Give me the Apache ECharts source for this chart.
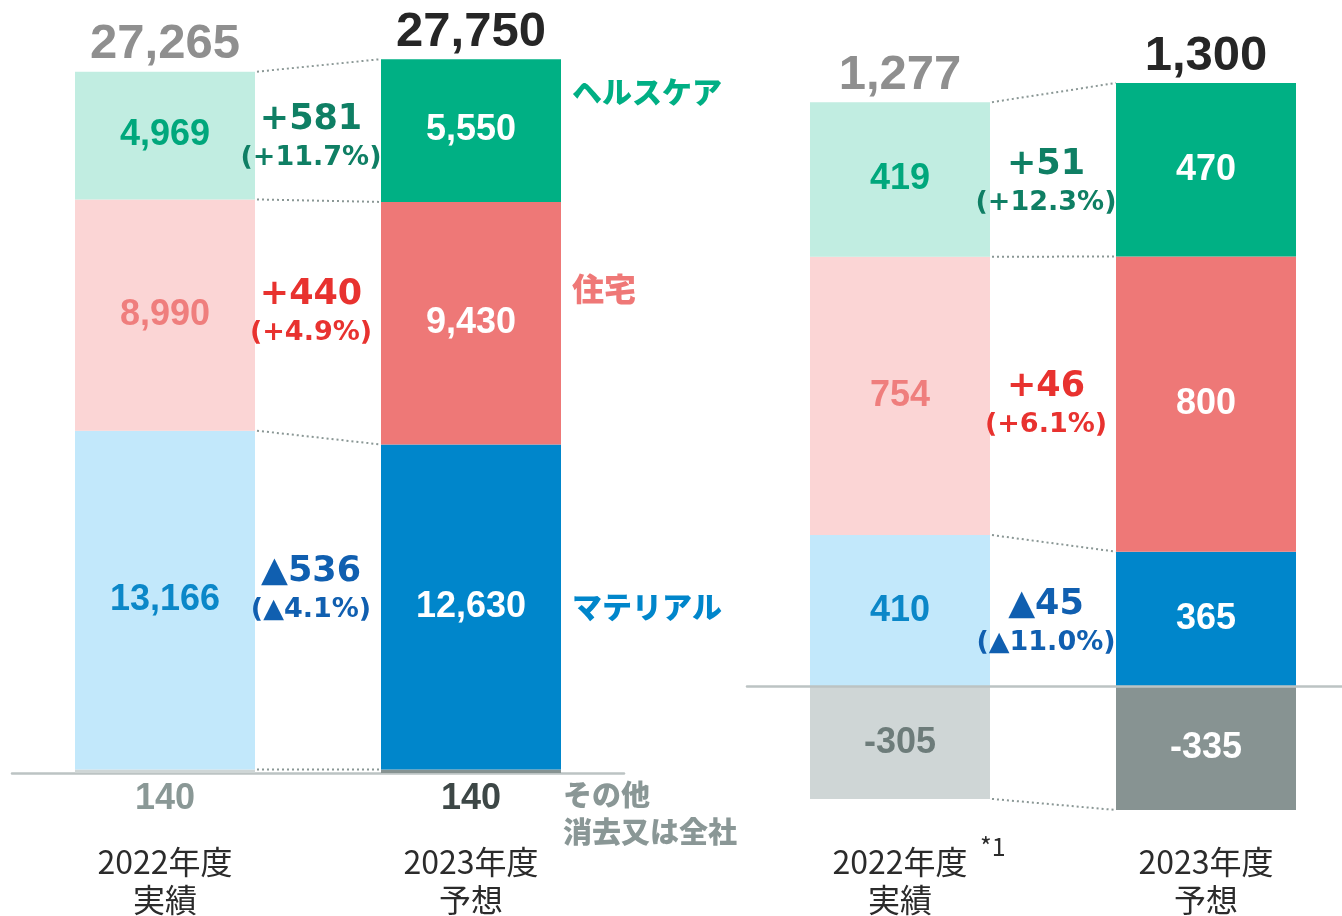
<!DOCTYPE html>
<html>
<head>
<meta charset="utf-8">
<title>セグメント別 売上高・営業利益</title>
<script src="https://cdn.jsdelivr.net/npm/echarts@6/dist/echarts.min.js"></script>
<style>
    html, body { margin: 0; padding: 0; background: #fff; }
    #main { width: 1342px; height: 916px; }
</style>
</head>
<body>
<div id="main"></div>
<script>
// 区分
var years = ['2022年度\n実績', '2023年度\n予想'];

// 売上高
var salesHealth = [4969, 5550];
var salesHousing = [8990, 9430];
var salesMaterial = [13166, 12630];
var salesOther = [140, 140];
var salesTotal = [27265, 27750];
var salesDiff = ['+581', '+440', '▲536'];
var salesRate = ['(+11.7%)', '(+4.9%)', '(▲4.1%)'];

// 営業利益
var opHealth = [419, 470];
var opHousing = [754, 800];
var opMaterial = [410, 365];
var opOther = [-305, -335];
var opTotal = [1277, 1300];
var opDiff = ['+51', '+46', '▲45'];
var opRate = ['(+12.3%)', '(+6.1%)', '(▲11.0%)'];

var barW = 180;
var numFont = '"Liberation Sans", Arial, sans-serif';
var diffFont = '"DejaVu Sans", Verdana, sans-serif';
var jpFont = '"Noto Sans CJK JP", sans-serif';

// 色（2022年度は淡色、2023年度は濃色）
var cHealth = ['#c1ede1', '#00b084'];
var cHousing = ['#fbd5d5', '#ee7877'];
var cMaterial = ['#c2e8fb', '#0086cb'];
var cOther = ['#cfd6d6', '#879392'];

function add(a, b) { return [a[0] + b[0], a[1] + b[1]]; }

// 積み上げの境界
var sLv1 = salesOther;
var sLv2 = add(sLv1, salesMaterial);
var sLv3 = add(sLv2, salesHousing);
var sLv4 = add(sLv3, salesHealth);
var oLv1 = opMaterial;
var oLv2 = add(oLv1, opHousing);
var oLv3 = add(oLv2, opHealth);

function mid(a, b) { return [(a[0] + b[0]) / 2, (a[1] + b[1]) / 2]; }

function barSeries(name, vals, colors, textColors, xi, yi, stack, pos) {
    return {
        name: name,
        type: 'bar',
        stack: stack,
        xAxisIndex: xi,
        yAxisIndex: yi,
        barWidth: barW,
        label: {
            show: true,
            position: pos || 'inside',
            distance: 8,
            fontFamily: numFont,
            fontWeight: 'bold',
            fontSize: 36
        },
        data: vals.map(function (v, i) {
            return {
                value: v,
                itemStyle: { color: colors[i] },
                label: { color: textColors[i], formatter: echarts.format.addCommas(v) }
            };
        })
    };
}

// 前年度と当年度の境界を結ぶ点線
function linkSeries(pairs, xi, yi) {
    return {
        type: 'custom',
        xAxisIndex: xi,
        yAxisIndex: yi,
        silent: true,
        z: 1,
        encode: { x: 0, y: [1, 2] },
        data: pairs.map(function (p) { return [0, p[0], p[1]]; }),
        renderItem: function (params, api) {
            var a = api.coord([0, api.value(1)]);
            var b = api.coord([1, api.value(2)]);
            return {
                type: 'line',
                shape: { x1: a[0] + barW / 2 + 2, y1: a[1], x2: b[0] - barW / 2, y2: b[1] },
                style: { stroke: '#8a9795', lineWidth: 2, lineDash: [2, 3] }
            };
        }
    };
}

// 合計値
function totalSeries(tops, totals, xi, yi) {
    return {
        type: 'custom',
        xAxisIndex: xi,
        yAxisIndex: yi,
        silent: true,
        z: 5,
        encode: { x: 0, y: 1 },
        data: tops.map(function (t, i) { return [i, t]; }),
        renderItem: function (params, api) {
            var i = params.dataIndex;
            var p = api.coord([i, api.value(1)]);
            return {
                type: 'text',
                x: p[0],
                y: p[1] - 27,
                style: {
                    text: echarts.format.addCommas(totals[i]),
                    fill: i ? '#262626' : '#8f8f8f',
                    font: 'bold 49px ' + numFont,
                    align: 'center',
                    verticalAlign: 'middle'
                }
            };
        }
    };
}

// 増減
function diffSeries(mids, diffs, rates, colors, xi, yi, dy) {
    return {
        type: 'custom',
        xAxisIndex: xi,
        yAxisIndex: yi,
        silent: true,
        z: 5,
        encode: { x: 0, y: [1, 2] },
        data: mids.map(function (m) { return [0, m[0], m[1]]; }),
        renderItem: function (params, api) {
            var i = params.dataIndex;
            var a = api.coord([0, api.value(1)]);
            var b = api.coord([1, api.value(2)]);
            return {
                type: 'text',
                z2: 100,
                x: (a[0] + b[0]) / 2 - 7,
                y: (a[1] + b[1]) / 2 + dy[i],
                style: {
                    text: '{d|' + diffs[i] + '}\n{r|' + rates[i] + '}',
                    fill: colors[i],
                    align: 'center',
                    verticalAlign: 'middle',
                    rich: {
                        d: { fontFamily: diffFont, fontWeight: 'bold', fontSize: 35, lineHeight: 40, fill: colors[i] },
                        r: { fontFamily: diffFont, fontWeight: 'bold', fontSize: 27, lineHeight: 36, fill: colors[i] }
                    }
                }
            };
        }
    };
}

var diffColors = ['#0f7f64', '#e8322f', '#105fb0'];
var axisGray = '#bcc3c3';
var yearLabel = { fontFamily: jpFont, fontSize: 32, lineHeight: 38, color: '#2b2b2b' };

var myChart = echarts.init(document.getElementById('main'));
var option = {
    animation: false,
    grid: [
        { left: 12, width: 612, top: 27, height: 746, outerBoundsMode: 'none' },
        { left: 747, width: 612, top: 59, height: 775, outerBoundsMode: 'none' }
    ],
    xAxis: [
        {
            type: 'category', gridIndex: 0, data: years,
            axisLine: { lineStyle: { color: axisGray, width: 2.5 } },
            axisTick: { show: false },
            axisLabel: Object.assign({ margin: 70 }, yearLabel)
        },
        {
            type: 'category', gridIndex: 1, data: years, z: 5,
            axisLine: { onZero: true, lineStyle: { color: axisGray, width: 2.5 } },
            axisTick: { show: false },
            axisLabel: { show: false }
        },
        {
            type: 'category', gridIndex: 1, data: years, position: 'bottom',
            axisLine: { show: false, onZero: false },
            axisTick: { show: false },
            axisLabel: Object.assign({ margin: 9 }, yearLabel)
        }
    ],
    yAxis: [
        { type: 'value', gridIndex: 0, min: 0, max: 29000, show: false },
        { type: 'value', gridIndex: 1, min: -400, max: 1700, show: false }
    ],
    graphic: [
        { type: 'text', left: 572, top: 77, style: { text: 'ヘルスケア', fill: '#00af84', font: '900 30px ' + jpFont } },
        { type: 'text', left: 572, top: 273, style: { text: '住宅', fill: '#ef7877', font: '900 32px ' + jpFont } },
        { type: 'text', left: 572, top: 592, style: { text: 'マテリアル', fill: '#0086cb', font: '900 30px ' + jpFont } },
        { type: 'text', left: 563, top: 776, style: { text: 'その他\n消去又は全社', fill: '#8a9796', font: '900 29px ' + jpFont, lineHeight: 37 } },
        { type: 'text', left: 980, top: 834, style: { text: '*1', fill: '#2b2b2b', font: '25px ' + jpFont } }
    ],
    series: [
        barSeries('その他', salesOther, cOther, ['#8a9896', '#3d4746'], 0, 0, 'sales', 'bottom'),
        barSeries('マテリアル', salesMaterial, cMaterial, ['#0b87c8', '#ffffff'], 0, 0, 'sales'),
        barSeries('住宅', salesHousing, cHousing, ['#ef7e7d', '#ffffff'], 0, 0, 'sales'),
        barSeries('ヘルスケア', salesHealth, cHealth, ['#00a77c', '#ffffff'], 0, 0, 'sales'),
        barSeries('その他', opOther, cOther, ['#6d7c7a', '#ffffff'], 1, 1, 'op'),
        barSeries('マテリアル', opMaterial, cMaterial, ['#0b87c8', '#ffffff'], 1, 1, 'op'),
        barSeries('住宅', opHousing, cHousing, ['#ef7e7d', '#ffffff'], 1, 1, 'op'),
        barSeries('ヘルスケア', opHealth, cHealth, ['#00a77c', '#ffffff'], 1, 1, 'op'),
        linkSeries([sLv1, sLv2, sLv3, sLv4], 0, 0),
        linkSeries([opOther, oLv1, oLv2, oLv3], 1, 1),
        totalSeries(sLv4, salesTotal, 0, 0),
        totalSeries(oLv3, opTotal, 1, 1),
        diffSeries([mid(sLv3, sLv4), mid(sLv2, sLv3), mid(sLv1, sLv2)], salesDiff, salesRate, diffColors, 0, 0, [5, -6, -14]),
        diffSeries([mid(oLv2, oLv3), mid(oLv1, oLv2), [opMaterial[0] / 2, opMaterial[1] / 2]], opDiff, opRate, diffColors, 1, 1, [8, 5, 8])
    ]
};
myChart.setOption(option);
</script>
</body>
</html>
